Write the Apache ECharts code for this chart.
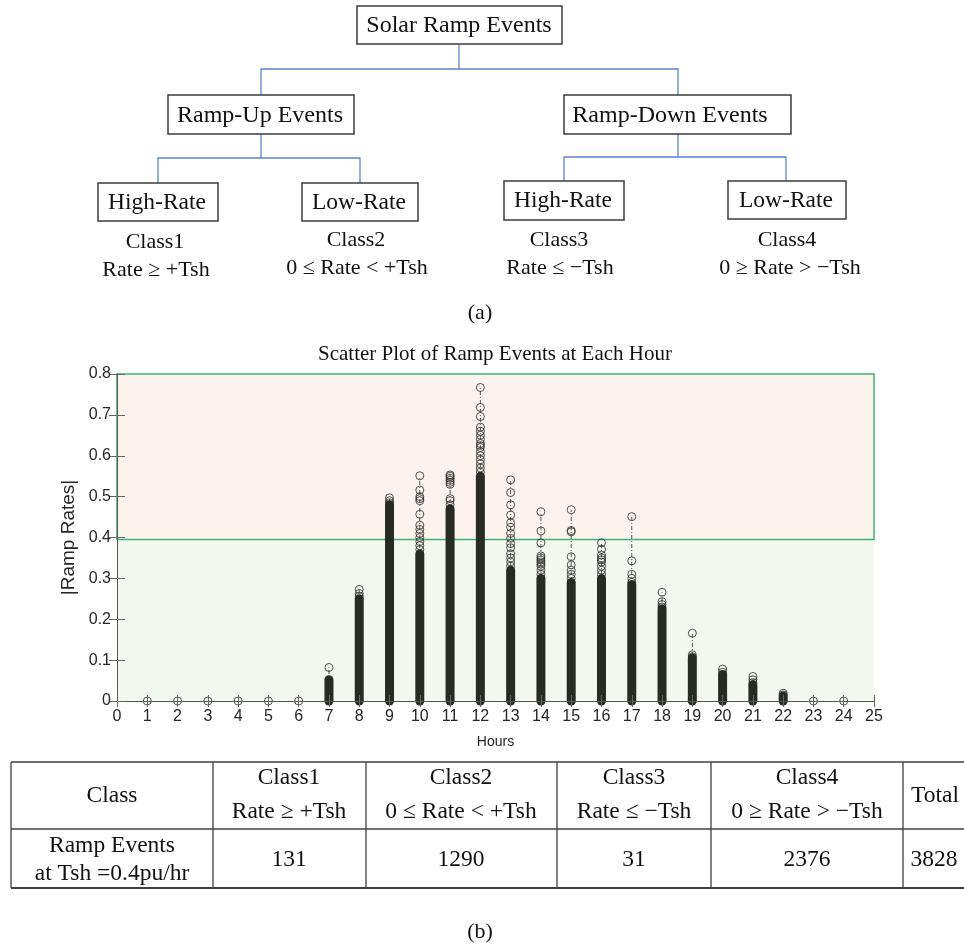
<!DOCTYPE html>
<html><head><meta charset="utf-8">
<script src="https://cdn.jsdelivr.net/npm/echarts@6/dist/echarts.min.js"></script>
<style>html,body{margin:0;padding:0;background:#fff}#c{width:964px;height:947px}</style>
</head><body><div id="c"></div>
<script>
// ---------- data ----------
const hours = [1,2,3,4,5,6,7,8,9,10,11,12,13,14,15,16,17,18,19,20,21,22,23,24];
// top of the densely packed (solid) part of each hour's column
const denseTop = [0,0,0,0,0,0,0.052,0.25,0.48,0.36,0.47,0.55,0.32,0.30,0.29,0.30,0.285,0.225,0.105,0.065,0.04,0.012,0,0];
// individually visible circles of each hour
const sparseRates = [
  [0],[0],[0],[0],[0],[0],
  [0.082],
  [0.256,0.263,0.273],
  [0.485,0.49,0.497],
  [0.37,0.38,0.39,0.40,0.41,0.42,0.43,0.457,0.49,0.495,0.50,0.516,0.551],
  [0.48,0.49,0.495,0.53,0.535,0.54,0.545,0.55,0.553],
  [0.56,0.57,0.58,0.59,0.60,0.61,0.62,0.625,0.63,0.64,0.65,0.66,0.67,0.696,0.718,0.767],
  [0.33,0.34,0.35,0.36,0.375,0.385,0.398,0.41,0.425,0.436,0.455,0.48,0.51,0.541],
  [0.31,0.32,0.33,0.335,0.34,0.345,0.35,0.355,0.387,0.416,0.463],
  [0.30,0.31,0.32,0.333,0.353,0.414,0.417,0.468],
  [0.31,0.32,0.33,0.34,0.345,0.35,0.357,0.371,0.387],
  [0.29,0.30,0.31,0.343,0.451],
  [0.23,0.236,0.243,0.266],
  [0.108,0.113,0.166],
  [0.07,0.078],
  [0.045,0.052,0.06],
  [0.015,0.019],
  [0],[0]
];
const threshold = 0.395;
const yMin = 0, yMax = 0.8, yStep = 0.1;
const xMin = 0, xMax = 25, xStep = 1;
const classNames = ['Class1','Class2','Class3','Class4'];
const classRules = ['Rate \u2265 +Tsh','0 \u2264 Rate < +Tsh','Rate \u2264 \u2212Tsh','0 \u2265 Rate > \u2212Tsh'];
const classCounts = [131,1290,31,2376];
const totalCount = 3828;

// ---------- derived series data ----------
const stemData = hours.map((h,i)=>[h,0,Math.max(denseTop[i],...sparseRates[i])]);
const denseData = hours.map((h,i)=>[h,denseTop[i]]).filter(d=>d[1]>0);
const pointData = [];
hours.forEach((h,i)=>sparseRates[i].forEach(v=>pointData.push([h,v])));
const bandData = [[xMin,yMin,threshold],[xMin,threshold,yMax]];

// ---------- graphic helpers ----------
const SERIF = '"Liberation Serif","Times New Roman",serif';
function txt(x,y,s,size){return {type:'text',x:x,y:y,z:50,style:{text:String(s),font:size+'px '+SERIF,fill:'#111',align:'center',verticalAlign:'middle',textAlign:'center',textVerticalAlign:'middle'}};}
function box(x1,y1,x2,y2){return {type:'rect',z:40,shape:{x:x1,y:y1,width:x2-x1,height:y2-y1},style:{fill:'#fff',stroke:'#3c3c3c',lineWidth:1.5}};}
function conn(pts){return {type:'polyline',z:40,shape:{points:pts},style:{fill:null,stroke:'#5b84d2',lineWidth:1.3}};}
function hl(x1,x2,y,w){return {type:'line',z:40,shape:{x1:x1,y1:y,x2:x2,y2:y},style:{stroke:'#404040',lineWidth:w||1.3}};}
function vl(x,y1,y2){return {type:'line',z:40,shape:{x1:x,y1:y1,x2:x,y2:y2},style:{stroke:'#404040',lineWidth:1.3}};}

const graphics = [
  // tree (a)
  conn([[459,45],[459,69]]), conn([[261,95],[261,69],[678,69],[678,95]]),
  conn([[261,134],[261,158]]), conn([[158,183],[158,158],[360,158],[360,183]]),
  conn([[678,134],[678,157]]), conn([[564,181],[564,157],[786,157],[786,181]]),
  box(357,6,562,44), box(168,95,354,134), box(564,95,791,134),
  box(98,183,218,221), box(302,183,418,221), box(504,181,624,220), box(728,181,846,219),
  txt(459,26,'Solar Ramp Events',24), txt(260,116,'Ramp-Up Events',24), txt(670,116,'Ramp-Down Events',24),
  txt(157,203,'High-Rate',23.5), txt(359,203,'Low-Rate',23.5), txt(563,201,'High-Rate',23.5), txt(786,201,'Low-Rate',23.5),
  txt(155,242,classNames[0],22), txt(156,270,classRules[0],22),
  txt(356,240,classNames[1],22), txt(357,268,classRules[1],22),
  txt(559,240,classNames[2],22), txt(560,268,classRules[2],22),
  txt(787,240,classNames[3],22), txt(790,268,classRules[3],22),
  txt(480,313,'(a)',22),
  // chart title
  txt(495,354,'Scatter Plot of Ramp Events at Each Hour',21),
  // table (b)
  hl(11,964,762), hl(11,964,829), hl(11,964,888,2),
  vl(11,762,888), vl(213,762,888), vl(366,762,888), vl(557,762,888), vl(711,762,888), vl(903,762,888),
  txt(112,796,'Class',23.5), txt(935,796,'Total',23.5),
  txt(112,846,'Ramp Events',23.5), txt(112,874,'at Tsh =0.4pu/hr',23.5),
  txt(934,860,totalCount,23.5),
  txt(480,932,'(b)',22)
];
const colCenters = [289,461,634,807];
classNames.forEach((n,i)=>{
  graphics.push(txt(colCenters[i],778,n,23.5));
  graphics.push(txt(colCenters[i],812,classRules[i],23.5));
  graphics.push(txt(colCenters[i],860,classCounts[i],23.5));
});

// ---------- chart ----------
const SANS = '"Liberation Sans",Arial,Helvetica,sans-serif';
const axisCommon = {
  min: xMin, max: xMax, interval: xStep, type:'value', z: 10,
  axisLine:{show:true,lineStyle:{color:'#555',width:1}},
  axisTick:{show:true,inside:true,length:6,lineStyle:{color:'#666'}},
  splitLine:{show:false}
};
const chart = echarts.init(document.getElementById('c'), null, {renderer:'canvas'});
chart.setOption({
  animation:false,
  backgroundColor:'#fff',
  grid:{left:117,right:90,top:374,bottom:246},
  xAxis:[
    Object.assign({}, axisCommon, {position:'bottom',
      axisLabel:{color:'#262626',fontSize:16,fontFamily:SANS,margin:8},
      name:'Hours',nameLocation:'middle',nameGap:34,nameTextStyle:{color:'#262626',fontSize:14,fontFamily:SANS}}),
    Object.assign({}, axisCommon, {position:'top',axisLabel:{show:false}})
  ],
  yAxis:[
    {type:'value',min:yMin,max:yMax,interval:yStep,position:'left',z:10,
     axisLine:{show:true,lineStyle:{color:'#555'}},
     axisTick:{show:true,inside:true,length:8,lineStyle:{color:'#666'}},
     splitLine:{show:false},
     axisLabel:{color:'#262626',fontSize:16,fontFamily:SANS,margin:6},
     name:'|Ramp Rates|',nameLocation:'middle',nameGap:35,nameRotate:90,
     nameTextStyle:{color:'#262626',fontSize:19,fontFamily:SANS}},
    {type:'value',min:yMin,max:yMax,interval:yStep,position:'right',z:10,
     axisLine:{show:true,lineStyle:{color:'#555'}},
     axisTick:{show:true,inside:true,length:8,lineStyle:{color:'#666'}},
     splitLine:{show:false},axisLabel:{show:false}}
  ],
  series:[
    {type:'custom',z:1,silent:true,data:bandData,encode:{x:0,y:[1,2]},
     renderItem:function(params,api){
       const a = api.coord([xMin, api.value(2)]), b = api.coord([xMax, api.value(1)]);
       const high = params.dataIndex === 1;
       return {type:'rect',shape:{x:a[0],y:a[1],width:b[0]-a[0],height:b[1]-a[1]},
         style:{fill: high ? '#fcf3ee' : '#f2f7f0', stroke: high ? '#3cb371' : null, lineWidth: 1.5}};
     }},
    {type:'custom',z:2,silent:true,data:stemData,encode:{x:0,y:[1,2]},
     renderItem:function(params,api){
       const a = api.coord([api.value(0), api.value(1)]), b = api.coord([api.value(0), api.value(2)]);
       return {type:'line',shape:{x1:a[0],y1:a[1],x2:b[0],y2:b[1]},
         style:{stroke:'#555',lineWidth:1,lineDash:[4,2,1,2]}};
     }},
    {type:'custom',z:3,silent:true,data:denseData,encode:{x:0,y:1},
     renderItem:function(params,api){
       const a = api.coord([api.value(0), 0]), b = api.coord([api.value(0), api.value(1)]);
       const w = 9;
       return {type:'rect',shape:{x:a[0]-w/2,y:b[1]-w/2,width:w,height:a[1]-b[1]+w,r:w/2},
         style:{fill:'#272b24'}};
     }},
    {type:'scatter',z:4,silent:true,data:pointData,symbol:'circle',symbolSize:8,
     itemStyle:{color:'rgba(0,0,0,0)',borderColor:'#2b2b2b',borderWidth:1}}
  ],
  graphic: graphics
});
</script></body></html>
